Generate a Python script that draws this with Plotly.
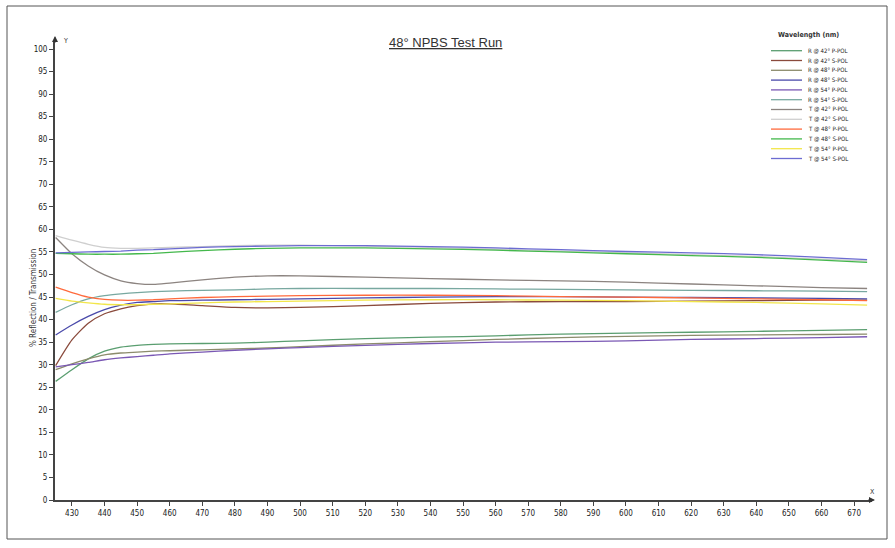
import plotly.graph_objects as go

# ---------------- data ----------------
wl = [425, 430, 435, 440, 445, 450, 455, 460, 470, 480, 490, 500, 520, 540, 560, 580, 600, 620, 640, 660, 674]

series_names = ["R @ 42° P-POL", "R @ 42° S-POL", "R @ 48° P-POL", "R @ 48° S-POL",
                "R @ 54° P-POL", "R @ 54° S-POL", "T @ 42° P-POL", "T @ 42° S-POL",
                "T @ 48° P-POL", "T @ 48° S-POL", "T @ 54° P-POL", "T @ 54° S-POL"]

r42p = [26.3, 28.9, 31.3, 33.0, 33.9, 34.3, 34.5, 34.6, 34.7, 34.8, 35.0, 35.3, 35.8, 36.1, 36.4, 36.8, 37.0, 37.2, 37.4, 37.6, 37.8]
r42s = [29.8, 35.5, 39.2, 41.3, 42.4, 43.1, 43.5, 43.5, 43.1, 42.7, 42.6, 42.7, 43.1, 43.6, 43.9, 44.0, 44.0, 44.1, 44.2, 44.3, 44.3]
r48p = [28.9, 30.2, 31.3, 32.2, 32.6, 32.8, 33.0, 33.1, 33.3, 33.5, 33.7, 34.0, 34.6, 35.1, 35.6, 36.0, 36.3, 36.5, 36.6, 36.7, 36.8]
r48s = [36.6, 38.8, 40.7, 42.2, 43.2, 43.8, 44.0, 44.2, 44.3, 44.4, 44.5, 44.6, 44.8, 45.0, 45.1, 45.1, 45.0, 44.9, 44.8, 44.7, 44.6]
r54p = [29.5, 30.0, 30.5, 31.1, 31.5, 31.8, 32.1, 32.4, 32.8, 33.2, 33.5, 33.8, 34.3, 34.7, 35.0, 35.1, 35.3, 35.6, 35.8, 36.0, 36.2]
r54s = [41.6, 43.3, 44.6, 45.3, 45.7, 46.0, 46.2, 46.3, 46.5, 46.6, 46.8, 46.9, 46.9, 46.9, 46.8, 46.7, 46.6, 46.5, 46.4, 46.3, 46.2]
t42p = [58.2, 54.6, 51.9, 49.9, 48.6, 48.0, 47.8, 48.1, 48.8, 49.4, 49.7, 49.7, 49.4, 49.1, 48.8, 48.6, 48.3, 47.9, 47.5, 47.1, 46.9]
t42s = [58.6, 57.6, 56.7, 56.0, 55.8, 55.8, 55.9, 56.0, 56.2, 56.4, 56.5, 56.5, 56.3, 56.0, 55.6, 55.2, 54.8, 54.4, 54.0, 53.4, 53.0]
t48p = [47.2, 46.0, 45.0, 44.5, 44.3, 44.3, 44.4, 44.6, 44.9, 45.1, 45.2, 45.3, 45.4, 45.4, 45.3, 45.1, 45.0, 44.8, 44.6, 44.4, 44.2]
t48s = [54.7, 54.6, 54.5, 54.5, 54.5, 54.6, 54.7, 54.9, 55.3, 55.6, 55.8, 55.9, 55.9, 55.7, 55.4, 55.0, 54.6, 54.2, 53.8, 53.2, 52.7]
t54p = [44.7, 44.1, 43.7, 43.4, 43.3, 43.3, 43.4, 43.5, 43.7, 43.9, 44.0, 44.1, 44.3, 44.4, 44.4, 44.3, 44.2, 44.0, 43.8, 43.5, 43.2]
t54s = [54.8, 54.9, 55.0, 55.1, 55.2, 55.4, 55.5, 55.7, 56.0, 56.2, 56.3, 56.4, 56.4, 56.2, 55.9, 55.5, 55.1, 54.8, 54.4, 53.8, 53.3]

values = [r42p, r42s, r48p, r48s, r54p, r54s, t42p, t42s, t48p, t48s, t54p, t54s]

colors = ["#5a9e70", "#8a4a3c", "#8c8c6c", "#4a4aaa", "#7a58b4", "#78a8a0",
          "#8c8480", "#cfcfcf", "#ff6a3c", "#44b84c", "#f2e64a", "#6c6cd2"]

x_ticks = list(range(430, 671, 10))
y_ticks = list(range(0, 101, 5))

# ---------------- layout geometry ----------------
W, H = 895, 548
L, R, T, B = 55, 23, 40, 48
PW, PH = W - L - R, H - T - B


def px(x):
    return (x - L) / PW


def py(y):
    return (H - B - y) / PH


FONT = "Liberation Sans Narrow, Arial Narrow, DejaVu Sans Condensed, sans-serif"

fig = go.Figure()
for name, vals, col in zip(series_names, values, colors):
    fig.add_trace(go.Scatter(x=wl, y=vals, mode="lines", name=name,
                             line=dict(color=col, width=1.3, shape="spline", smoothing=0.6),
                             showlegend=False))

shapes = []
annotations = []

# outer frame
shapes.append(dict(type="rect", xref="paper", yref="paper",
                   x0=px(7), x1=px(887), y0=py(539), y1=py(6),
                   line=dict(color="#555555", width=1)))

# manual legend
annotations.append(dict(text="<b>Wavelength (nm)</b>", xref="paper", yref="paper",
                        x=px(808), y=py(35), showarrow=False, xanchor="center", yanchor="middle",
                        font=dict(family=FONT, size=7, color="#333333")))
for i, (name, col) in enumerate(zip(series_names, colors)):
    yy = 50.7 + i * 9.8
    shapes.append(dict(type="line", xref="paper", yref="paper",
                       x0=px(771), x1=px(802), y0=py(yy), y1=py(yy),
                       line=dict(color=col, width=1.3)))
    annotations.append(dict(text=name, xref="paper", yref="paper",
                            x=px(806), y=py(yy), showarrow=False, xanchor="left", yanchor="middle",
                            font=dict(family=FONT, size=6, color="#222222")))

# title
annotations.append(dict(text="<u>48° NPBS Test Run</u>", xref="paper", yref="paper",
                        x=px(445), y=py(43), showarrow=False, xanchor="center", yanchor="middle",
                        font=dict(family="Liberation Sans, Arial, sans-serif", size=13, color="#333333")))

# y axis title
annotations.append(dict(text="% Reflection / Transmission", xref="paper", yref="paper",
                        x=px(33), y=py(298), showarrow=False, textangle=-90,
                        xanchor="center", yanchor="middle",
                        font=dict(family=FONT, size=8, color="#333333")))

# axis arrows and labels
annotations.append(dict(x=px(55), y=py(36), ax=0, ay=8, xref="paper", yref="paper",
                        showarrow=True, arrowhead=2, arrowsize=0.8, arrowwidth=1.5,
                        arrowcolor="#333333", text=""))
annotations.append(dict(x=px(875), y=py(500), ax=-8, ay=0, xref="paper", yref="paper",
                        showarrow=True, arrowhead=2, arrowsize=0.8, arrowwidth=1.5,
                        arrowcolor="#333333", text=""))
annotations.append(dict(text="Y", xref="paper", yref="paper", x=px(61), y=py(41),
                        showarrow=False, xanchor="left", yanchor="middle",
                        font=dict(family=FONT, size=7, color="#333333")))
annotations.append(dict(text="X", xref="paper", yref="paper", x=px(872), y=py(492),
                        showarrow=False, xanchor="center", yanchor="middle",
                        font=dict(family=FONT, size=7, color="#333333")))

fig.update_layout(
    width=W, height=H,
    margin=dict(l=L, r=R, t=T, b=B),
    paper_bgcolor="white", plot_bgcolor="white",
    showlegend=False,
    shapes=shapes, annotations=annotations,
    xaxis=dict(range=[424.8, 675.5], tickvals=x_ticks, ticktext=[str(v) for v in x_ticks],
               showgrid=False, zeroline=False, showline=True, linecolor="#444444", linewidth=2,
               ticks="outside", ticklen=4, tickwidth=1, tickcolor="#444444",
               tickfont=dict(family=FONT, size=8, color="#222222")),
    yaxis=dict(range=[0, 102], tickvals=y_ticks, ticktext=[str(v) for v in y_ticks],
               showgrid=False, zeroline=False, showline=True, linecolor="#444444", linewidth=2,
               ticks="outside", ticklen=4, tickwidth=1, tickcolor="#444444",
               tickfont=dict(family=FONT, size=8, color="#222222")),
)

fig.write_html("out.html", post_script="document.body.style.margin='0';",
               config={"displayModeBar": False})
